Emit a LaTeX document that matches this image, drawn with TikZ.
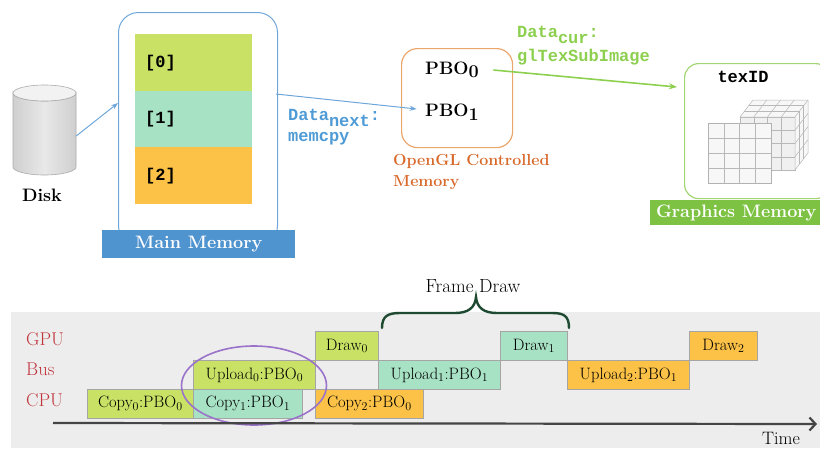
\documentclass[tikz,border=0pt]{standalone}
\usepackage{fontspec}
\newfontfamily\codefont{Liberation Mono}
\usetikzlibrary{shapes.geometric,arrows.meta,calc}

\definecolor{memblue}{HTML}{6FA6DA}
\definecolor{barblue}{HTML}{4F93CF}
\definecolor{cLime}{HTML}{C9E265}
\definecolor{cMint}{HTML}{A8E2C4}
\definecolor{cOrange}{HTML}{FCC247}
\definecolor{txtblue}{HTML}{4E9BD6}
\definecolor{txtgreen}{HTML}{8DCF4E}
\definecolor{glorange}{HTML}{D8692B}
\definecolor{pboedge}{HTML}{EBA66B}
\definecolor{gfxedge}{HTML}{A2D673}
\definecolor{gfxbar}{HTML}{7DC242}
\definecolor{rowred}{HTML}{C0343C}
\definecolor{bandgrey}{HTML}{ECEDEC}
\definecolor{boxedge}{HTML}{A5A5A5}
\definecolor{bracegreen}{HTML}{1F4A32}
\definecolor{ringpurple}{HTML}{9B72CB}
\definecolor{axisgrey}{HTML}{454545}
\definecolor{diskside}{HTML}{CFCFCF}
\definecolor{diskmid}{HTML}{E8E8E8}
\definecolor{diskend}{HTML}{F2F2F2}
\definecolor{diskedge}{HTML}{ABABAB}
\definecolor{gridline}{HTML}{B8B8B8}

\begin{document}
\begin{tikzpicture}[x=1pt,y=-1pt,
  cell/.style={anchor=north west, minimum width=117, minimum height=57,
    text width=97, align=left, inner sep=0,
    font=\codefont\bfseries\fontsize{17}{20}\selectfont},
  bigbold/.style={font=\bfseries\fontsize{18}{21}\selectfont},
  codeblue/.style={anchor=west, inner sep=0, text=txtblue,
    font=\codefont\bfseries\fontsize{17}{20}\selectfont},
  codegreen/.style={anchor=west, inner sep=0, text=txtgreen,
    font=\codefont\bfseries\fontsize{17}{20}\selectfont},
  bluearr/.style={draw=memblue, line width=1, -{Stealth[length=7pt,width=5pt]}},
  greenarr/.style={draw=txtgreen, line width=1.6, -{Stealth[length=8pt,width=6pt]}},
  slot/.style={draw=boxedge, line width=0.8, anchor=north west,
    minimum height=29, inner sep=0, font=\fontsize{16.5}{19}\selectfont},
  rowlabel/.style={anchor=west, text=rowred, inner sep=0,
    font=\fontsize{18.5}{21}\selectfont},
]
\useasboundingbox (0,0) rectangle (820,448);

% timeline background band
\fill[bandgrey] (11,312) rectangle (820,448);

% ---------- disk ----------
\node[minimum width=63, minimum height=92, inner sep=0] (disk) at (44.5,130) {};
\path[draw=diskedge, line width=0.6, left color=diskside, right color=diskside,
  middle color=diskmid]
  (13,93) -- (13,167) arc[start angle=180, end angle=0, x radius=31.5, y radius=8]
  -- (76,93) arc[start angle=0, end angle=180, x radius=31.5, y radius=8] -- cycle;
\filldraw[draw=diskedge, line width=0.6, fill=diskend]
  (44.5,93) ellipse[x radius=31.5, y radius=8];
\node[bigbold] (disklbl) at (42,195) {Disk};

% ---------- main memory ----------
\node[draw=memblue, line width=1, rounded corners=20, minimum width=159,
  minimum height=233, anchor=north west, inner sep=0] (mem) at (118,12) {};
\node[cell, fill=cLime] (m0) at (135,34) {[0]};
\node[cell, fill=cMint] (m1) at (135,90.5) {[1]};
\node[cell, fill=cOrange] (m2) at (135,147) {[2]};
\node[fill=barblue, minimum width=193, minimum height=28, anchor=north west,
  inner sep=0, text=white, bigbold] (membar) at (102,230) {Main Memory};

\draw[bluearr] ($(disk.east)+(0,6)$) -- ($(mem.north west)+(0,91)$);

% ---------- OpenGL controlled memory ----------
\node[draw=pboedge, line width=1.2, rounded corners=16, minimum width=111,
  minimum height=99, anchor=north west, inner sep=0] (pbo) at (401,48) {};
\node[bigbold] (p0) at (452,70) {PBO\raisebox{-3.5pt}{0}};
\node[bigbold] (p1) at (452,112) {PBO\raisebox{-3.5pt}{1}};
\node[anchor=west, align=left, inner sep=0, text=glorange,
  font=\bfseries\fontsize{16}{21}\selectfont] (gllbl) at (393,172.5)
  {OpenGL Controlled\\Memory};

\draw[bluearr] ($(mem.north east)+(-2,82)$) -- ($(p1.west)+(-5,-3)$);
\node[codeblue] (nexta) at (288,118) {Data\raisebox{-6pt}{next}:};
\node[codeblue] (nextb) at (288,139) {memcpy};

% ---------- graphics memory ----------
\node[draw=gfxedge, line width=1.2, rounded corners=14, minimum width=145,
  minimum height=135, anchor=north west, inner sep=0] (gfx) at (684,63) {};
\node[fill=gfxbar, minimum width=172, minimum height=25, anchor=north west,
  inner sep=0, text=white, bigbold] (gfxbar) at (650,200) {Graphics Memory};
\node[inner sep=0, font=\codefont\bfseries\fontsize{17}{20}\selectfont]
  (texid) at (743,77) {texID};

\draw[greenarr] ($(p0.east)+(11,0)$) -- ($(gfx.north west)+(-7,24)$);
\node[codegreen] (cura) at (517,35) {Data\raisebox{-6pt}{cur}:};
\node[codegreen] (curb) at (517,57) {glTexSubImage};

% texture volume: cube of cells behind a single slice
\begin{scope}[draw=gridline, line width=0.5]
  \def\cx{740}\def\cy{117}\def\cw{55}\def\ch{53}\def\dx{13}\def\dy{-17}
  \filldraw[fill=black!6] (\cx,\cy) rectangle ++(\cw,\ch);
  \filldraw[fill=black!3] (\cx,\cy) -- ++(\dx,\dy) -- ++(\cw,0) -- ++(0,\ch)
    -- ++(-\dx,-\dy) -- ++(0,-\ch) -- cycle;
  \foreach \i in {1,2,3} {
    \draw (\cx+\i*\cw/4,\cy) -- ++(0,\ch);
    \draw (\cx,\cy+\i*\ch/4) -- ++(\cw,0);
    \draw (\cx+\i*\cw/4,\cy) -- ++(\dx,\dy);
    \draw (\cx+\cw,\cy+\i*\ch/4) -- ++(\dx,\dy);
  }
  \draw (\cx+\cw,\cy) -- ++(\dx,\dy);
  \foreach \j in {1,2} {
    \draw (\cx+\j*\dx/3,\cy+\j*\dy/3) -- ++(\cw,0) -- ++(0,\ch);
  }
  \filldraw[fill=black!3, draw=black!30] (708,123) rectangle (771,183);
  \foreach \i in {1,2,3} {
    \draw (708+\i*63/4,123) -- ++(0,60);
    \draw (708,123+\i*15) -- ++(63,0);
  }
\end{scope}

% ---------- timeline ----------
\node[rowlabel] (gpu) at (26,339) {GPU};
\node[rowlabel] (bus) at (26,369) {Bus};
\node[rowlabel] (cpu) at (26,400) {CPU};

\node[slot, fill=cLime, minimum width=106] (c0) at (87,389) {Copy$_0$:PBO$_0$};
\node[slot, fill=cMint, minimum width=109] (c1) at (193,389) {Copy$_1$:PBO$_1$};
\node[slot, fill=cLime, minimum width=122] (u0) at (193,360) {Upload$_0$:PBO$_0$};
\node[slot, fill=cLime, minimum width=63] (d0) at (315,331) {Draw$_0$};
\node[slot, fill=cOrange, minimum width=108] (c2) at (315,389) {Copy$_2$:PBO$_0$};
\node[slot, fill=cMint, minimum width=122] (u1) at (378,360) {Upload$_1$:PBO$_1$};
\node[slot, fill=cMint, minimum width=67] (d1) at (500,331) {Draw$_1$};
\node[slot, fill=cOrange, minimum width=122] (u2) at (567,360) {Upload$_2$:PBO$_1$};
\node[slot, fill=cOrange, minimum width=68] (d2) at (689,331) {Draw$_2$};

\node[draw=ringpurple, line width=1.6, ellipse, minimum width=145,
  minimum height=79, inner sep=0] (ring) at (254,385.5) {};

% frame brace
\draw[bracegreen, line width=2.4, line cap=round]
  (382,328) .. controls (382,316) and (388,313) .. (400,313) -- (455,313)
  .. controls (468,313) and (475,308) .. (476,297)
  .. controls (477,308) and (484,313) .. (497,313) -- (552,313)
  .. controls (564,313) and (569,316) .. (569,328);
\node[inner sep=0, font=\fontsize{19}{22}\selectfont] (frame) at (473,286) {Frame Draw};

\coordinate (t0) at (53,423);
\coordinate (t1) at (817,424);
\draw[axisgrey, line width=2.2, -{Straight Barb[length=6pt,width=13pt]}] (t0) -- (t1);
\node[inner sep=0, font=\fontsize{18}{21}\selectfont] (time) at (781,438) {Time};
\end{tikzpicture}
\end{document}
